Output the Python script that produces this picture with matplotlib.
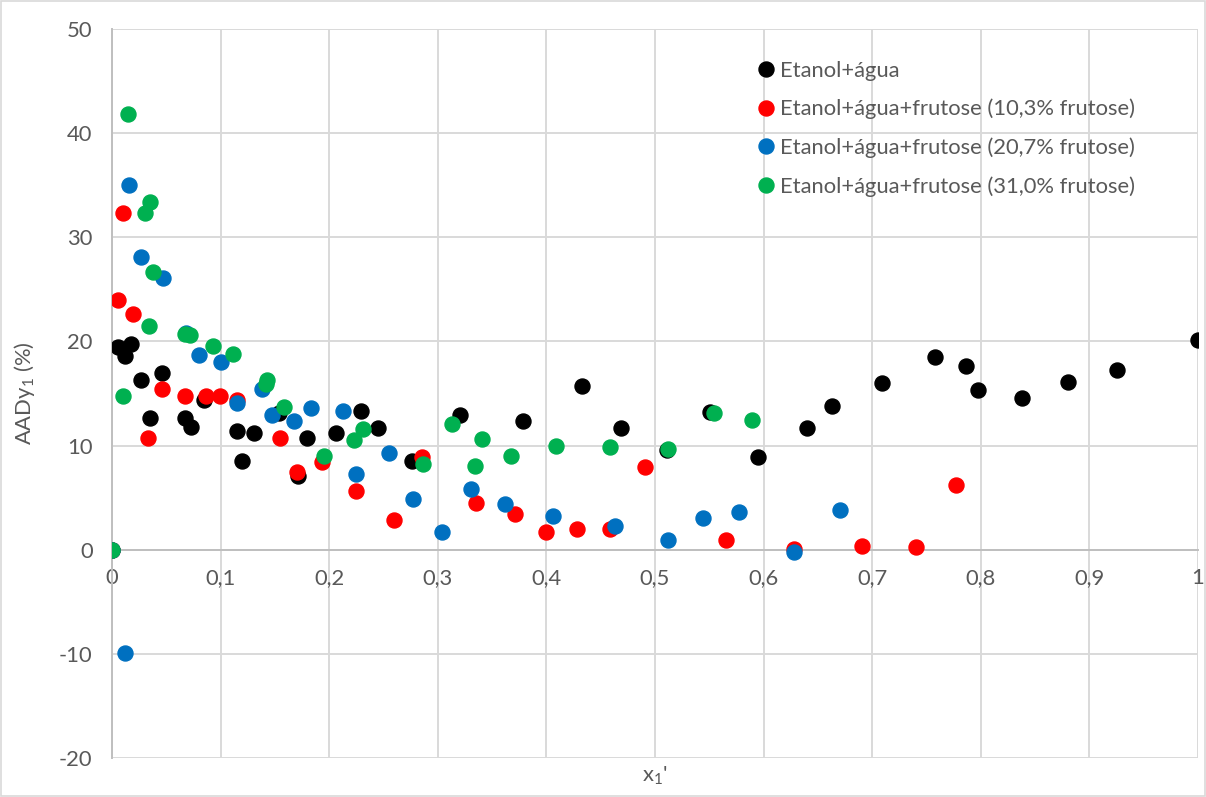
import matplotlib.pyplot as plt
from matplotlib.patches import Rectangle

plt.rcParams['font.family'] = ['Lato', 'DejaVu Sans']
plt.rcParams['mathtext.default'] = 'regular'
plt.rcParams['axes.unicode_minus'] = False

# Etanol+água
x_agua = [0, 0.0055, 0.012, 0.0175, 0.027, 0.035, 0.046, 0.067, 0.073, 0.085, 0.115, 0.12, 0.131,
          0.154, 0.171, 0.18, 0.206, 0.229, 0.245, 0.276, 0.320, 0.378, 0.433, 0.469, 0.511, 0.551,
          0.595, 0.640, 0.663, 0.709, 0.758, 0.786, 0.797, 0.838, 0.880, 0.925, 1.0]
y_agua = [0, 19.5, 18.6, 19.8, 16.3, 12.6, 17.0, 12.6, 11.8, 14.4, 11.4, 8.5, 11.2,
          13.1, 7.1, 10.7, 11.2, 13.3, 11.7, 8.5, 12.9, 12.4, 15.7, 11.7, 9.6, 13.2,
          8.9, 11.7, 13.8, 16.0, 18.5, 17.6, 15.3, 14.6, 16.1, 17.3, 20.1]

# 10,3% frutose
x_f10 = [0, 0.0055, 0.010, 0.019, 0.033, 0.046, 0.067, 0.087, 0.099, 0.115, 0.155, 0.170, 0.193,
         0.225, 0.260, 0.285, 0.335, 0.371, 0.400, 0.428, 0.459, 0.491, 0.565, 0.628, 0.691,
         0.740, 0.777]
y_f10 = [0, 24.0, 32.3, 22.6, 10.7, 15.4, 14.8, 14.8, 14.8, 14.4, 10.7, 7.5, 8.4,
         5.6, 2.9, 8.9, 4.5, 3.4, 1.7, 2.0, 2.0, 7.9, 0.9, 0.1, 0.4,
         0.3, 6.2]

# 20,7% frutose
x_f20 = [0, 0.012, 0.016, 0.027, 0.047, 0.068, 0.080, 0.100, 0.115, 0.138, 0.147, 0.168, 0.183,
         0.213, 0.225, 0.255, 0.277, 0.304, 0.331, 0.362, 0.406, 0.463, 0.512, 0.544, 0.577,
         0.628, 0.670]
y_f20 = [0, -9.9, 35.0, 28.1, 26.1, 20.8, 18.7, 18.0, 14.1, 15.4, 12.9, 12.4, 13.6,
         13.3, 7.3, 9.3, 4.9, 1.7, 5.8, 4.4, 3.2, 2.3, 0.9, 3.0, 3.6,
         -0.2, 3.8]

# 31,0% frutose
x_f31 = [0, 0.010, 0.015, 0.030, 0.034, 0.035, 0.038, 0.067, 0.072, 0.093, 0.111, 0.142, 0.143,
         0.158, 0.195, 0.223, 0.231, 0.286, 0.313, 0.334, 0.341, 0.367, 0.409, 0.459, 0.512,
         0.554, 0.589]
y_f31 = [0, 14.8, 41.8, 32.3, 21.5, 33.4, 26.7, 20.7, 20.6, 19.6, 18.8, 15.9, 16.3,
         13.7, 9.0, 10.5, 11.6, 8.2, 12.1, 8.0, 10.6, 9.0, 10.0, 9.9, 9.7,
         13.1, 12.5]

series = [
    (x_agua, y_agua, '#000000', 'Etanol+água'),
    (x_f10, y_f10, '#FF0000', 'Etanol+água+frutose (10,3% frutose)'),
    (x_f20, y_f20, '#0070C0', 'Etanol+água+frutose (20,7% frutose)'),
    (x_f31, y_f31, '#00B050', 'Etanol+água+frutose (31,0% frutose)'),
]

x_ticks = [0, 0.1, 0.2, 0.3, 0.4, 0.5, 0.6, 0.7, 0.8, 0.9, 1]
x_ticklabels = ['0', '0,1', '0,2', '0,3', '0,4', '0,5', '0,6', '0,7', '0,8', '0,9', '1']
y_ticks = [-20, -10, 0, 10, 20, 30, 40, 50]

fs = 15.8

fig = plt.figure(figsize=(12.06, 7.97), dpi=100)
ax = fig.add_axes([112/1206, 1 - 758/797, 1086/1206, 729/797])

for x, y, c, lab in series:
    ax.plot(x, y, linestyle='none', marker='o', markersize=10.8, color=c, label=lab, zorder=3)

ax.set_xlim(0, 1)
ax.set_ylim(-20, 50)
ax.set_xticks(x_ticks)
ax.set_xticklabels(x_ticklabels)
ax.set_yticks(y_ticks)
ax.grid(True, color='#D9D9D9', linewidth=1.4)
ax.set_axisbelow(True)

for s in ['top', 'right']:
    ax.spines[s].set_visible(False)
ax.spines['bottom'].set_position(('data', 0))
ax.spines['bottom'].set_color('#BFBFBF')
ax.spines['left'].set_color('#BFBFBF')
ax.spines['bottom'].set_linewidth(1.4)
ax.spines['left'].set_linewidth(1.4)
ax.spines['bottom'].set_zorder(2)

ax.tick_params(axis='both', length=0, labelsize=fs, labelcolor='#595959')
ax.tick_params(axis='x', pad=13)
ax.tick_params(axis='y', pad=14)

ax.set_ylabel('AADy$_1$ (%)', fontsize=fs, color='#595959', labelpad=16)
fig.text(655/1206, 1 - 776/797, "x$_1$'", fontsize=fs, color='#595959', ha='center', va='center')

leg = ax.legend(loc='upper left', bbox_to_anchor=(732/1206, 1 - 41/797), bbox_transform=fig.transFigure,
                frameon=False, fontsize=fs, handletextpad=0.0, labelspacing=0.82,
                handlelength=1.3, markerscale=1.0)
for t in leg.get_texts():
    t.set_color('#595959')

fig.patches.append(Rectangle((0.001, 0.001), 0.998, 0.998, transform=fig.transFigure,
                             fill=False, edgecolor='#D9D9D9', linewidth=1.2))

fig.savefig('out.png', dpi=100)
